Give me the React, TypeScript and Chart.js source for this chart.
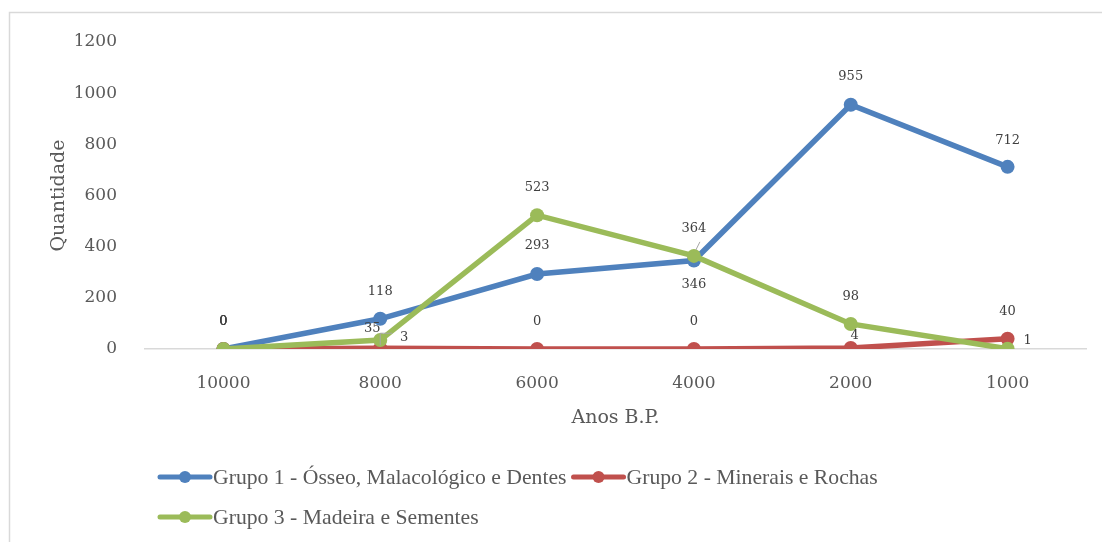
import React, { useEffect, useRef } from "react";
import { Chart, registerables } from "chart.js";

Chart.register(...registerables);

// ---- data ----
const categories = ["10000", "8000", "6000", "4000", "2000", "1000"];
const grupo1 = [0, 118, 293, 346, 955, 712];
const grupo2 = [0, 3, 0, 0, 4, 40];
const grupo3 = [0, 35, 523, 364, 98, 1];
const seriesNames = [
  "Grupo 1 - Ósseo, Malacológico e Dentes",
  "Grupo 2 - Minerais e Rochas",
  "Grupo 3 - Madeira e Sementes",
];
const yMin = 0;
const yMax = 1200;
const yStep = 200;
const xTitle = "Anos B.P.";
const yTitle = "Quantidade";

// ---- styles ----
const seriesColors = ["#4F81BD", "#C0504D", "#9BBB59"];
// label offsets (dx, dy) relative to each point
const labelOffsets = [
  [[0, -27], [0, -27], [0, -28], [0, 24], [0, -28], [0, -26]],
  [[0, -27], [24, -11], [0, -27], [0, -27], [4, -12], [0, -27]],
  [[0, -27], [-8, -11], [0, -28], [0, -27], [0, -27], [20, -8]],
];
// leader lines: [series, index, path of [dx,dy]]
const leaders: [number, number, number[][]][] = [
  [1, 1, [[12, -15], [0, -15], [0, -3]]],
  [2, 3, [[2, -6], [6, -14]]],
];

const labelPlugin = {
  id: "pointLabels",
  afterDatasetsDraw(chart: any) {
    const ctx = chart.ctx;
    ctx.save();
    ctx.strokeStyle = "#A6A6A6";
    ctx.lineWidth = 1;
    leaders.forEach(([s, i, path]) => {
      const p = chart.getDatasetMeta(s).data[i];
      ctx.beginPath();
      path.forEach(([dx, dy], k) => {
        if (k === 0) ctx.moveTo(p.x + dx, p.y + dy);
        else ctx.lineTo(p.x + dx, p.y + dy);
      });
      ctx.stroke();
    });
    ctx.font = "13px 'DejaVu Serif'";
    ctx.fillStyle = "#404040";
    ctx.textAlign = "center";
    ctx.textBaseline = "middle";
    chart.data.datasets.forEach((ds: any, s: number) => {
      const meta = chart.getDatasetMeta(s);
      meta.data.forEach((p: any, i: number) => {
        const [dx, dy] = labelOffsets[s][i];
        ctx.fillText(String(ds.data[i]), p.x + dx, p.y + dy);
      });
    });
    ctx.restore();
  },
};

const framePlugin = {
  id: "frame",
  beforeDraw(chart: any) {
    const ctx = chart.ctx;
    ctx.save();
    ctx.fillStyle = "#FFFFFF";
    ctx.fillRect(0, 0, chart.width, chart.height);
    ctx.strokeStyle = "#D9D9D9";
    ctx.lineWidth = 1.5;
    ctx.beginPath();
    ctx.moveTo(9.5, chart.height);
    ctx.lineTo(9.5, 12.5);
    ctx.lineTo(chart.width, 12.5);
    ctx.stroke();
    ctx.restore();
  },
};

const legendPlugin = {
  id: "customLegend",
  afterDraw(chart: any) {
    const ctx = chart.ctx;
    ctx.save();
    ctx.font = "21.7px 'Liberation Serif'";
    ctx.textBaseline = "middle";
    ctx.textAlign = "left";
    const rows = [[0, 1], [2]];
    const rowY = [477, 517];
    rows.forEach((row, r) => {
      let x = 158;
      const y = rowY[r];
      row.forEach((s) => {
        ctx.strokeStyle = seriesColors[s];
        ctx.lineWidth = 5;
        ctx.lineCap = "round";
        ctx.beginPath();
        ctx.moveTo(x + 2, y);
        ctx.lineTo(x + 52, y);
        ctx.stroke();
        ctx.fillStyle = seriesColors[s];
        ctx.beginPath();
        ctx.arc(x + 27, y, 6, 0, Math.PI * 2);
        ctx.fill();
        ctx.fillStyle = "#595959";
        ctx.fillText(seriesNames[s], x + 55, y + 1);
        x += 55 + ctx.measureText(seriesNames[s]).width + 5;
      });
    });
    ctx.restore();
  },
};

export default function App() {
  const ref = useRef<HTMLCanvasElement | null>(null);
  useEffect(() => {
    if (!ref.current) return;
    const series = [grupo1, grupo2, grupo3];
    const chart = new Chart(ref.current, {
      type: "line",
      data: {
        labels: categories,
        datasets: series.map((d, s) => ({
          label: seriesNames[s],
          data: d,
          borderColor: seriesColors[s],
          backgroundColor: seriesColors[s],
          borderWidth: 5.5,
          pointRadius: 7,
          pointBorderWidth: 0,
          pointBackgroundColor: seriesColors[s],
          tension: 0,
          order: 3 - s,
        })),
      },
      options: {
        responsive: false,
        animation: false,
        layout: { padding: { left: 10, right: 16, top: 42, bottom: 113 } },
        plugins: {
          legend: { display: false },
          tooltip: { enabled: false },
        },
        scales: {
          x: {
            offset: true,
            grid: { display: false },
            border: { display: true, color: "#D9D9D9", width: 1.5 },
            ticks: {
              color: "#595959",
              font: { family: "'DejaVu Serif'", size: 17 },
              padding: 16,
            },
            title: {
              display: true,
              text: xTitle,
              color: "#595959",
              font: { family: "'DejaVu Serif'", size: 19 },
              padding: { top: 7, bottom: 0 },
            },
            afterFit(scale: any) {
              scale.height = 80;
              scale.paddingLeft = 0;
              scale.paddingRight = 0;
            },
          },
          y: {
            min: yMin,
            max: yMax,
            grid: { display: false },
            border: { display: false },
            ticks: {
              stepSize: yStep,
              color: "#595959",
              font: { family: "'DejaVu Serif'", size: 17 },
              padding: 20,
              callback: (v: any) => String(v),
            },
            title: {
              display: true,
              text: yTitle,
              color: "#595959",
              font: { family: "'DejaVu Serif'", size: 19 },
              padding: { top: 38, bottom: 0 },
            },
            afterFit(scale: any) {
              scale.width = 135;
              scale.paddingTop = 0;
              scale.paddingBottom = 0;
            },
          },
        },
      },
      plugins: [framePlugin, labelPlugin, legendPlugin],
    });
    return () => chart.destroy();
  }, []);
  return (
    <div style={{ position: "fixed", left: 0, top: 0, width: 1102, height: 542, background: "#fff" }}>
      <canvas ref={ref} width={1102} height={542} style={{ display: "block" }} />
    </div>
  );
}
